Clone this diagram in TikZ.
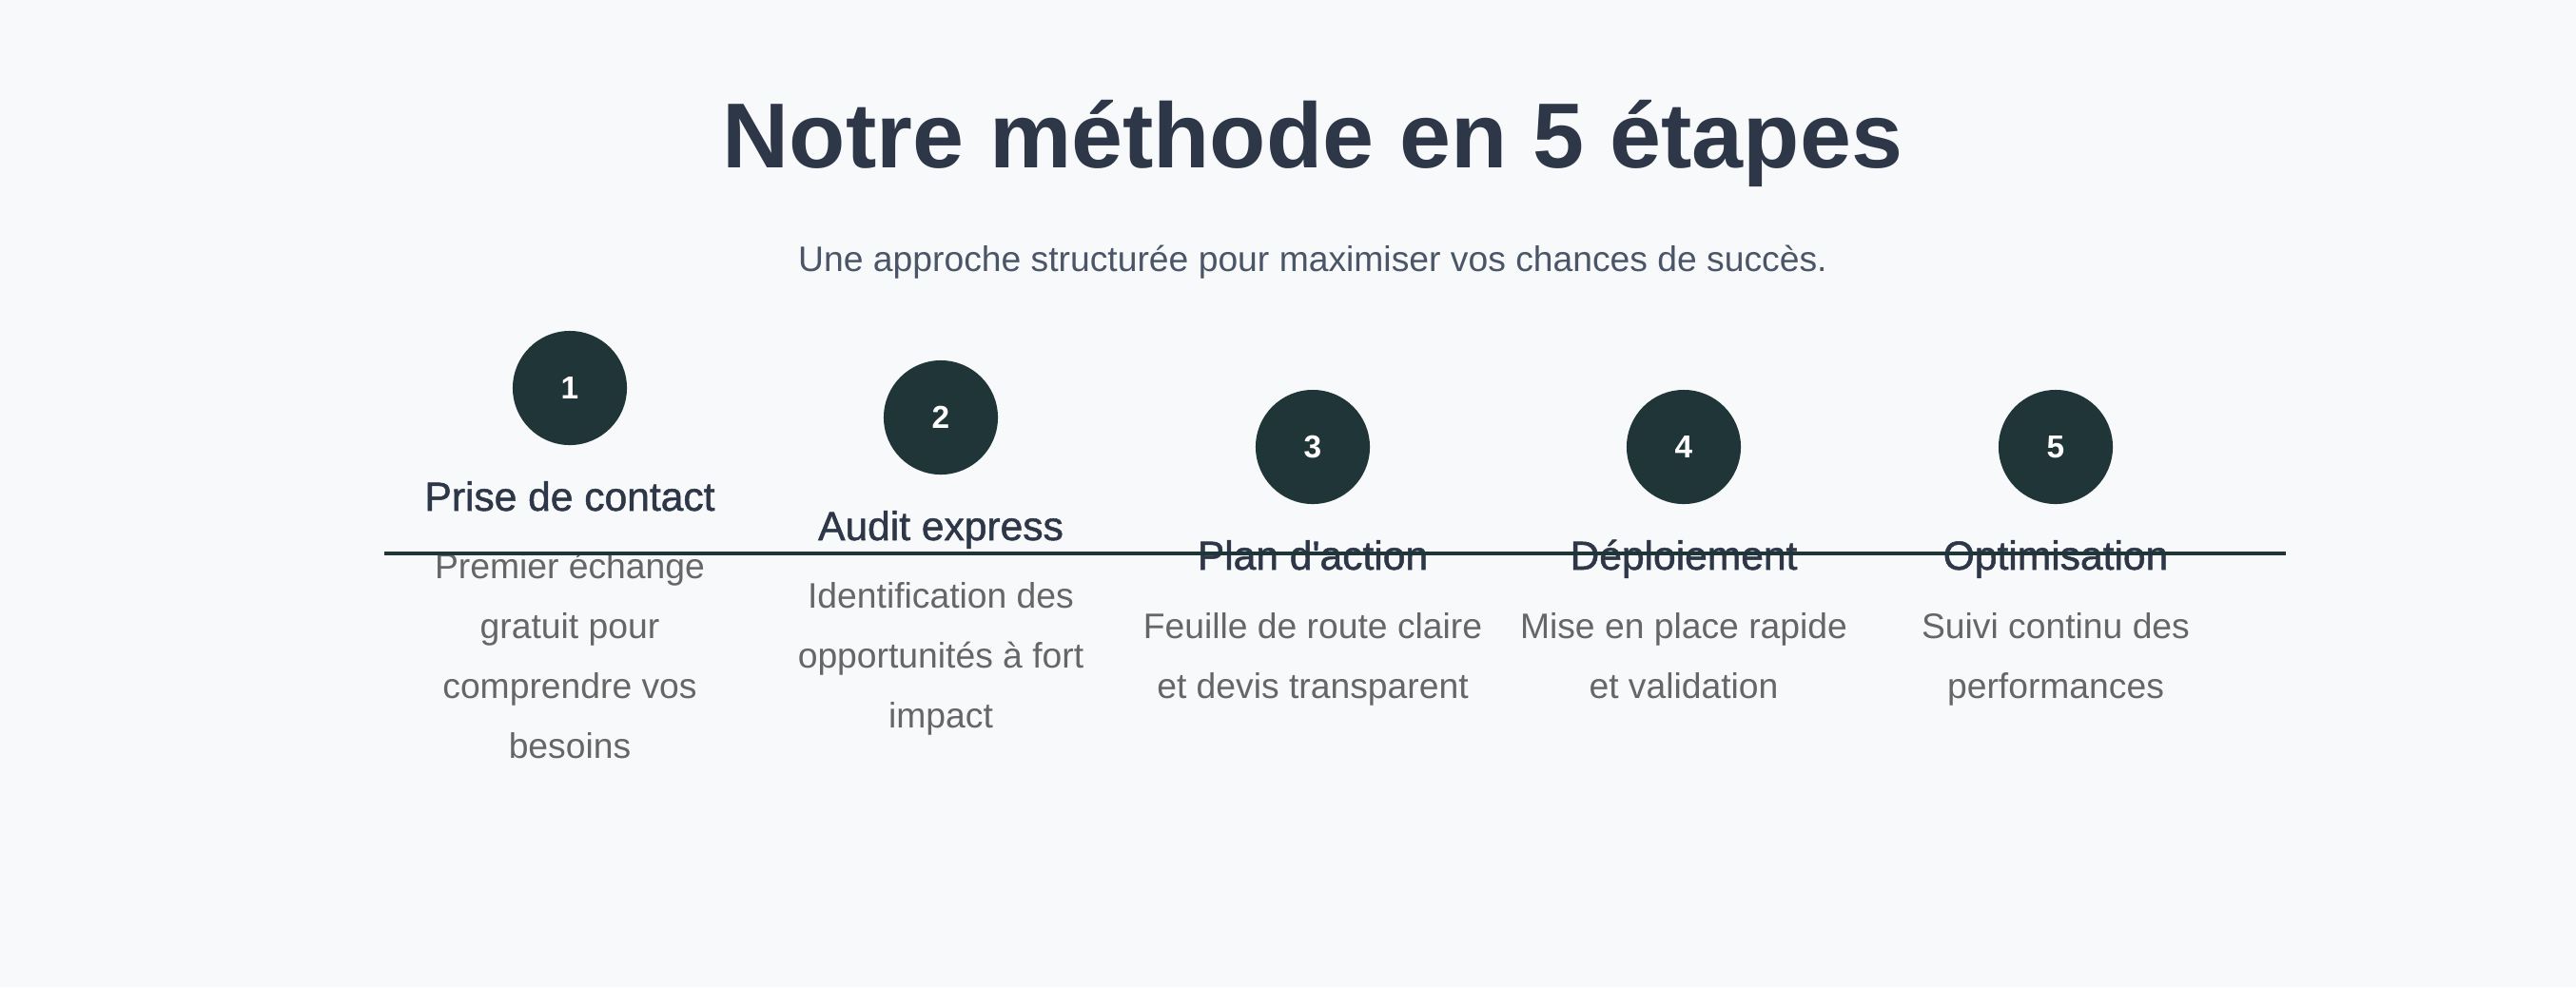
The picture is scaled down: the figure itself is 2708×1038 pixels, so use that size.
\documentclass[tikz,border=0pt]{standalone}
\usepackage{fontspec}
\setmainfont{Liberation Sans}
\newfontfamily\semifont[FakeBold=1.2]{Liberation Sans}
\usetikzlibrary{positioning}
\definecolor{pagebg}{HTML}{F8F9FB}
\definecolor{headcol}{HTML}{2D3748}
\definecolor{subcol}{HTML}{4A5568}
\definecolor{desccol}{HTML}{666666}
\definecolor{stepcol}{HTML}{1F3538}
\tikzset{stepdot/.style={circle, fill=stepcol, minimum size=1.2cm, inner sep=0pt,
    text=white, font=\bfseries\fontsize{9.5}{11}\selectfont},
    steptitle/.style={anchor=base, text=headcol, font=\semifont\fontsize{12.1}{14}\selectfont},
    stepdesc/.style={anchor=base, align=center, text=desccol,
    font=\fontsize{10.6}{17.9}\selectfont}}

\begin{document}
\begin{tikzpicture}[x=0.01cm, y=-0.01cm]
        \fill[pagebg] (0,0) rectangle (2708,1038);
        \useasboundingbox (0,0) rectangle (2708,1038);
        \node[anchor=base, text=headcol, font=\bfseries\fontsize{27.6}{33}\selectfont] (head) at (1380,176) {Notre méthode en 5 étapes};
        \node[anchor=base, text=subcol, font=\fontsize{10.6}{13}\selectfont] (sub) at (1380,285) {Une approche structurée pour maximiser vos chances de succès.};
        % circles
        \node[stepdot] (c1) at (599,408) {1};
        \node[stepdot] (c2) at (989,439) {2};
        \node[stepdot] (c3) at (1380,470) {3};
        \node[stepdot] (c4) at (1770,470) {4};
        \node[stepdot] (c5) at (2161,470) {5};
        % titles
        \node[steptitle] (t1) at (599,537) {Prise de contact};
        \node[steptitle] (t2) at (989,568) {Audit express};
        \node[steptitle] (t3) at (1380,599) {Plan d'action};
        \node[steptitle] (t4) at (1770,599) {Déploiement};
        \node[steptitle] (t5) at (2161,599) {Optimisation};
        % descriptions (base = last line)
        \node[stepdesc] (d1) at (599,797) {Premier échange\\gratuit pour\\comprendre vos\\besoins};
        \node[stepdesc] (d2) at (989,765) {Identification des\\opportunités à fort\\impact};
        \node[stepdesc] (d3) at (1380,734) {Feuille de route claire\\et devis transparent};
        \node[stepdesc] (d4) at (1770,734) {Mise en place rapide\\et validation};
        \node[stepdesc] (d5) at (2161,734) {Suivi continu des\\performances};
        % timeline
        \coordinate (tl) at (404,582);
        \coordinate (tr) at (2403,582);
        \draw[stepcol, line width=1pt] (tl) -- (tr);
    \end{tikzpicture}
\end{document}
